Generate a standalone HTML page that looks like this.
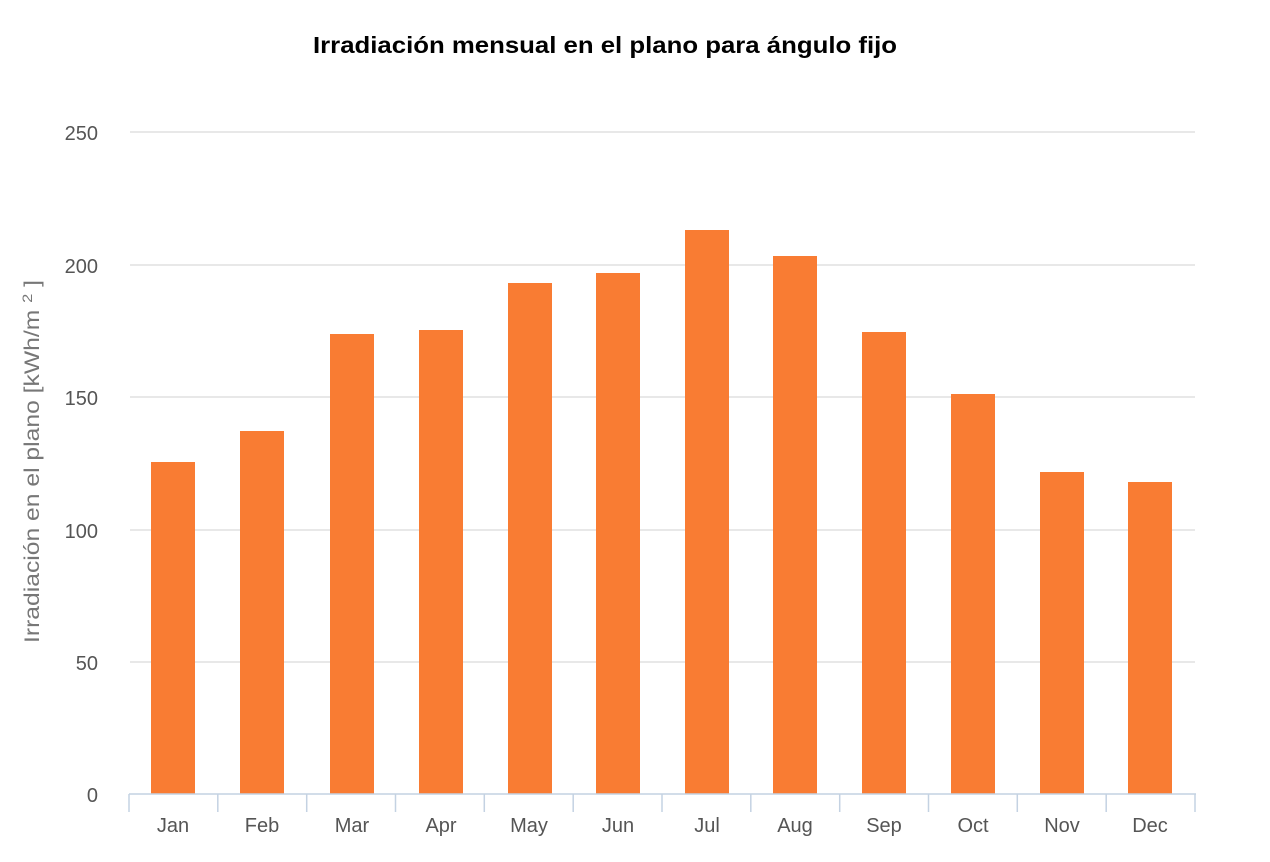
<!DOCTYPE html>
<html><head><meta charset="utf-8"><style>
html,body{margin:0;padding:0;background:#fff;}
svg{display:block;font-family:"Liberation Sans",Arial,sans-serif;}
</style></head><body>
<svg width="1270" height="862" viewBox="0 0 1270 862">
<text x="313" y="53" font-size="23" font-weight="bold" fill="#000" textLength="584" lengthAdjust="spacingAndGlyphs">Irradiación mensual en el plano para ángulo fijo</text>
<g stroke="#d9d9d9" stroke-width="1.3">
<line x1="130" y1="132" x2="1195" y2="132"/>
<line x1="130" y1="265" x2="1195" y2="265"/>
<line x1="130" y1="397" x2="1195" y2="397"/>
<line x1="130" y1="530" x2="1195" y2="530"/>
<line x1="130" y1="662" x2="1195" y2="662"/>
</g>
<g font-size="20" fill="#555" text-anchor="end">
<text x="98" y="140">250</text>
<text x="98" y="273">200</text>
<text x="98" y="405">150</text>
<text x="98" y="538">100</text>
<text x="98" y="670">50</text>
<text x="98" y="802">0</text>
</g>
<text transform="translate(39,643) rotate(-90)" font-size="21" fill="#777" textLength="363" lengthAdjust="spacingAndGlyphs">Irradiación en el plano [kWh/m <tspan font-size="14" dy="-7">2</tspan><tspan dy="7"> ]</tspan></text>
<g fill="#f97c33">
<rect x="151" y="462" width="44" height="332"/>
<rect x="240" y="431" width="44" height="363"/>
<rect x="330" y="334" width="44" height="460"/>
<rect x="419" y="330" width="44" height="464"/>
<rect x="508" y="283" width="44" height="511"/>
<rect x="596" y="273" width="44" height="521"/>
<rect x="685" y="230" width="44" height="564"/>
<rect x="773" y="256" width="44" height="538"/>
<rect x="862" y="332" width="44" height="462"/>
<rect x="951" y="394" width="44" height="400"/>
<rect x="1040" y="472" width="44" height="322"/>
<rect x="1128" y="482" width="44" height="312"/>
</g>
<g stroke="#c4d2e2" stroke-width="1.5">
<line x1="129" y1="794" x2="1196" y2="794"/>
<line x1="129" y1="794" x2="129" y2="812"/>
<line x1="217.8" y1="794" x2="217.8" y2="812"/>
<line x1="306.7" y1="794" x2="306.7" y2="812"/>
<line x1="395.5" y1="794" x2="395.5" y2="812"/>
<line x1="484.3" y1="794" x2="484.3" y2="812"/>
<line x1="573.2" y1="794" x2="573.2" y2="812"/>
<line x1="662" y1="794" x2="662" y2="812"/>
<line x1="750.8" y1="794" x2="750.8" y2="812"/>
<line x1="839.7" y1="794" x2="839.7" y2="812"/>
<line x1="928.5" y1="794" x2="928.5" y2="812"/>
<line x1="1017.3" y1="794" x2="1017.3" y2="812"/>
<line x1="1106.2" y1="794" x2="1106.2" y2="812"/>
<line x1="1195" y1="794" x2="1195" y2="812"/>
</g>
<g font-size="20" fill="#555" text-anchor="middle">
<text x="173" y="832">Jan</text>
<text x="262" y="832">Feb</text>
<text x="352" y="832">Mar</text>
<text x="441" y="832">Apr</text>
<text x="529" y="832">May</text>
<text x="618" y="832">Jun</text>
<text x="707" y="832">Jul</text>
<text x="795" y="832">Aug</text>
<text x="884" y="832">Sep</text>
<text x="973" y="832">Oct</text>
<text x="1062" y="832">Nov</text>
<text x="1150" y="832">Dec</text>
</g>
</svg>
</body></html>
